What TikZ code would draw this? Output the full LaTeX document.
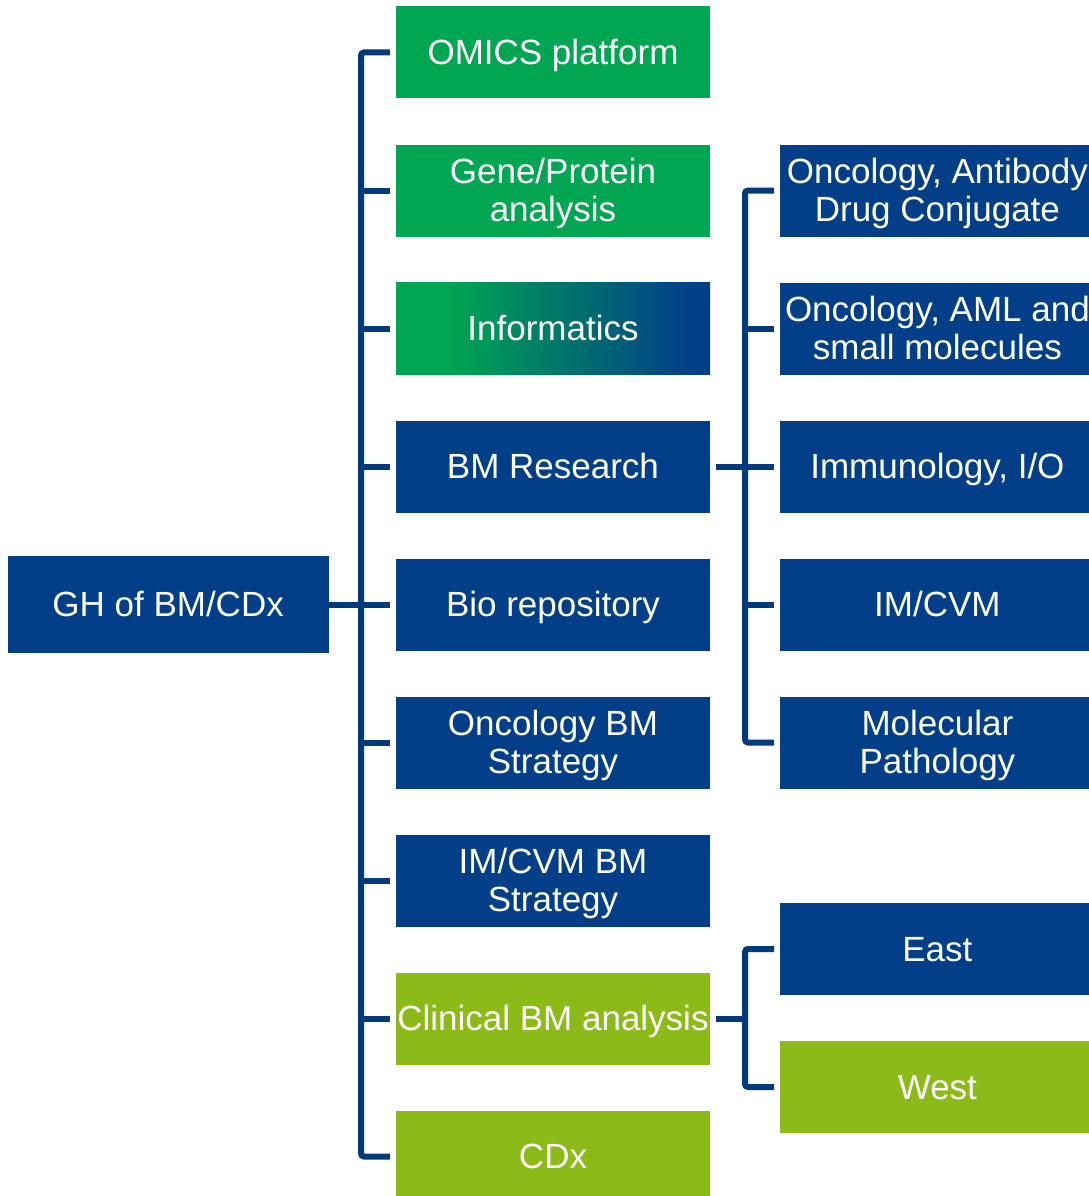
\documentclass[tikz,border=0pt]{standalone}
\usepackage{fontspec}
\setmainfont{Liberation Sans}
\usepackage{xcolor}
\usetikzlibrary{positioning}
\definecolor{orgblue}{RGB}{2,63,136}
\definecolor{orggreen}{RGB}{0,166,81}
\definecolor{orglime}{RGB}{140,186,24}
\definecolor{linkblue}{RGB}{3,58,125}
\pgfdeclarehorizontalshading{infograd}{100bp}{color(0bp)=(orggreen); color(33bp)=(orggreen); color(72bp)=(orgblue); color(100bp)=(orgblue)}

\begin{document}
\begin{tikzpicture}[
  x=1pt, y=-1pt,
  node distance=45.6pt and 70pt,
  every node/.style={font=\fontsize{35}{37.5}\selectfont},
  box/.style={minimum width=314pt, minimum height=92pt, inner sep=0pt, align=center, text=white,
    text height=31.7pt, text depth=7.4pt},
  twoline/.style={text height=69.2pt},
  bluebox/.style={box, fill=orgblue},
  greenbox/.style={box, fill=orggreen},
  limebox/.style={box, fill=orglime},
  gradbox/.style={box, shading=infograd},
  conn/.style={draw=linkblue, line width=6pt, rounded corners=3pt}
]
\useasboundingbox (0,0) rectangle (1088,1196);

% middle column
\node[greenbox] (omics) at (553,52.5) {OMICS platform};
\node[greenbox, twoline, below=of omics] (gene) {Gene/Protein\\analysis};
\node[gradbox, below=of gene] (info) {Informatics};
\node[bluebox, below=of info] (bmres) {BM Research};
\node[bluebox, below=of bmres] (bio) {Bio repository};
\node[bluebox, twoline, below=of bio] (oncstr) {Oncology BM\\Strategy};
\node[bluebox, twoline, below=of oncstr] (imstr) {IM/CVM BM\\Strategy};
\node[limebox, below=of imstr] (clin) {Clinical BM analysis};
\node[limebox, below=of clin] (cdx) {CDx};

% root
\node[bluebox, minimum width=321pt, minimum height=97pt, left=67pt of bio] (root) {GH of BM/CDx};

% right column
\node[bluebox, twoline, right=of gene] (adc) {Oncology, Antibody\\Drug Conjugate};
\node[bluebox, twoline, below=of adc] (aml) {Oncology, AML and\\small molecules};
\node[bluebox, below=of aml] (immuno) {Immunology, I/O};
\node[bluebox, below=of immuno] (imcvm) {IM/CVM};
\node[bluebox, twoline, below=of imcvm] (molpath) {Molecular\\Pathology};
\node[bluebox, right=of imstr, yshift=-68.5pt] (east) {East};
\node[limebox, below=of east] (west) {West};

\coordinate (trunk) at (361,0);
\coordinate (trunkb) at (745,0);

% connectors
\draw[conn] ([xshift=-6pt]omics.west) -| (trunk |- cdx.west) -- ([xshift=-6pt]cdx.west);
\foreach \n in {gene,info,bmres,bio,oncstr,imstr,clin}
  \draw[conn] (trunk |- \n.west) -- ([xshift=-6pt]\n.west);
\draw[conn] (root.east) -- ([xshift=-6pt]bio.west);

\draw[conn] ([xshift=-6pt]adc.west) -| (trunkb |- molpath.west) -- ([xshift=-6pt]molpath.west);
\foreach \n in {aml,imcvm}
  \draw[conn] (trunkb |- \n.west) -- ([xshift=-6pt]\n.west);
\draw[conn] ([xshift=6pt]bmres.east) -- ([xshift=-6pt]immuno.west);

\draw[conn] ([xshift=-6pt]east.west) -| (trunkb |- west.west) -- ([xshift=-6pt]west.west);
\draw[conn] ([xshift=6pt]clin.east) -- (trunkb |- clin.east);
\end{tikzpicture}
\end{document}
